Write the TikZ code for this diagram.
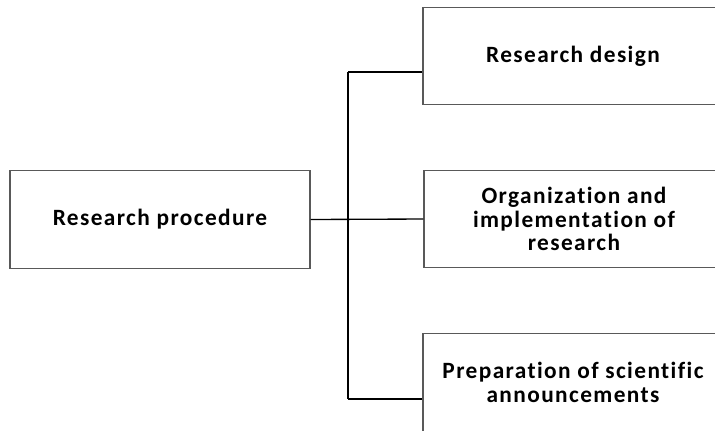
\documentclass[tikz,border=0pt]{standalone}
\usepackage{fontspec}
\setmainfont{Carlito}[Ligatures={NoCommon,NoRequired,NoContextual},LetterSpace=6]
\begin{document}
\begin{tikzpicture}[x=0.75pt,y=-0.75pt,
  box/.style={draw=black!65,line width=0.8pt,fill=white,minimum width=225pt,minimum height=73pt,
    align=center,inner sep=0pt,font=\bfseries\fontsize{17.5}{17.5}\selectfont},
  bus/.style={line width=1.5pt,black},
  link/.style={line width=1pt,black}]
\useasboundingbox (0,0) rectangle (715,430);
\fill[white] (0,0) rectangle (715,430);
\clip (0,0) rectangle (715,430);
\node[box] (rp) at (160,219.5) {Research procedure};
\node[box] (rd) at (573,56) {Research design};
\node[box] (oi) at (574,219) {Organization and\\implementation of\\research};
\node[box] (ps) at (573,382.5) {Preparation of scientific\\announcements};
\coordinate (t) at (348,72);
\coordinate (b) at (348,399);
\draw[bus] (t) -- (b);
\draw[link] (t) -- (t -| rd.west);
\draw[link] (b) -- (b -| ps.west);
\draw[link] (rp.east) -- (oi.west);
\end{tikzpicture}
\end{document}
